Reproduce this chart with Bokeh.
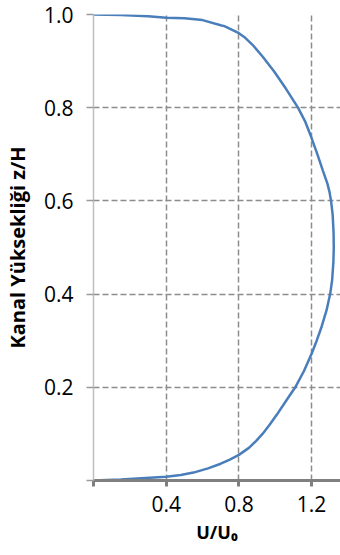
from bokeh.plotting import figure
from bokeh.models import Range1d, FixedTicker, NumeralTickFormatter
from bokeh.embed import file_html
from bokeh.resources import INLINE

# Velocity profile: U/U0 versus channel height z/H
u_ratio = [0.0, 0.15, 0.31, 0.40, 0.48, 0.55, 0.63, 0.70, 0.75, 0.80, 0.855,
           0.895, 0.93, 0.97, 1.01, 1.058, 1.11, 1.158, 1.20, 1.228, 1.255, 1.282,
           1.302, 1.313, 1.32, 1.322, 1.321, 1.316, 1.307, 1.298, 1.287, 1.262,
           1.232, 1.198, 1.165, 1.125, 1.06, 0.995, 0.93, 0.875, 0.835, 0.80,
           0.72, 0.70, 0.60, 0.50, 0.40, 0.30, 0.15, 0.0]
z_height = [0.0, 0.002, 0.006, 0.008, 0.012, 0.017, 0.026, 0.036, 0.045, 0.055, 0.07,
            0.085, 0.10, 0.12, 0.142, 0.17, 0.20, 0.235, 0.272, 0.30, 0.33, 0.365,
            0.40, 0.43, 0.47, 0.50, 0.53, 0.57, 0.60, 0.62, 0.637, 0.665,
            0.70, 0.737, 0.77, 0.80, 0.84, 0.877, 0.91, 0.935, 0.95, 0.96,
            0.975, 0.977, 0.988, 0.992, 0.993, 0.996, 0.999, 1.0]

x_ticks = [0.4, 0.8, 1.2]
y_ticks = [0.2, 0.4, 0.6, 0.8, 1.0]

FONT = "Open Sans"

p = figure(width=340, height=555, output_backend="svg", toolbar_location=None,
           x_range=Range1d(0, 1.359), y_range=Range1d(0, 1.0),
           min_border_left=93, min_border_right=0, min_border_top=14,
           min_border_bottom=75)
p.outline_line_color = None
p.background_fill_color = "white"
p.border_fill_color = "white"

p.line(u_ratio, z_height, line_color="#4a7ebb", line_width=2.5)

# x axis
xa = p.xaxis[0]
xa.ticker = FixedTicker(ticks=x_ticks, minor_ticks=[0.0])
xa.formatter = NumeralTickFormatter(format="0.0")
xa.axis_line_color = "#7f7f7f"
xa.axis_line_width = 3
xa.major_tick_line_color = "#7f7f7f"
xa.major_tick_line_width = 3
xa.major_tick_out = 6
xa.major_tick_in = 0
xa.minor_tick_line_color = "#7f7f7f"
xa.minor_tick_line_width = 3
xa.minor_tick_out = 6
xa.minor_tick_in = 0
xa.major_label_text_font = FONT
xa.major_label_text_font_size = "21px"
xa.major_label_text_color = "#000000"
xa.major_label_standoff = 9
xa.axis_label = "U/U₀"
xa.axis_label_text_font = FONT
xa.axis_label_text_font_size = "18px"
xa.axis_label_text_font_style = "bold"
xa.axis_label_text_color = "#000000"
xa.axis_label_standoff = 5

# y axis
ya = p.yaxis[0]
ya.ticker = FixedTicker(ticks=y_ticks, minor_ticks=[0.0])
ya.formatter = NumeralTickFormatter(format="0.0")
ya.axis_line_color = "#bfbfbf"
ya.axis_line_width = 1.5
ya.major_tick_line_color = "#9a9a9a"
ya.major_tick_line_width = 1.5
ya.major_tick_out = 7
ya.major_tick_in = 0
ya.minor_tick_line_color = "#9a9a9a"
ya.minor_tick_line_width = 1.5
ya.minor_tick_out = 7
ya.minor_tick_in = 0
ya.major_label_text_font = FONT
ya.major_label_text_font_size = "21px"
ya.major_label_text_color = "#000000"
ya.major_label_standoff = 13
ya.axis_label = "Kanal Yüksekliği z/H"
ya.axis_label_text_font = FONT
ya.axis_label_text_font_size = "20px"
ya.axis_label_text_font_style = "bold"
ya.axis_label_text_color = "#000000"
ya.axis_label_standoff = 10

# grids
for g in (p.xgrid[0], p.ygrid[0]):
    g.grid_line_color = "#8c8c8c"
    g.grid_line_width = 1.5
    g.grid_line_dash = "6 3"

open("out.html", "w").write(file_html(p, INLINE))
